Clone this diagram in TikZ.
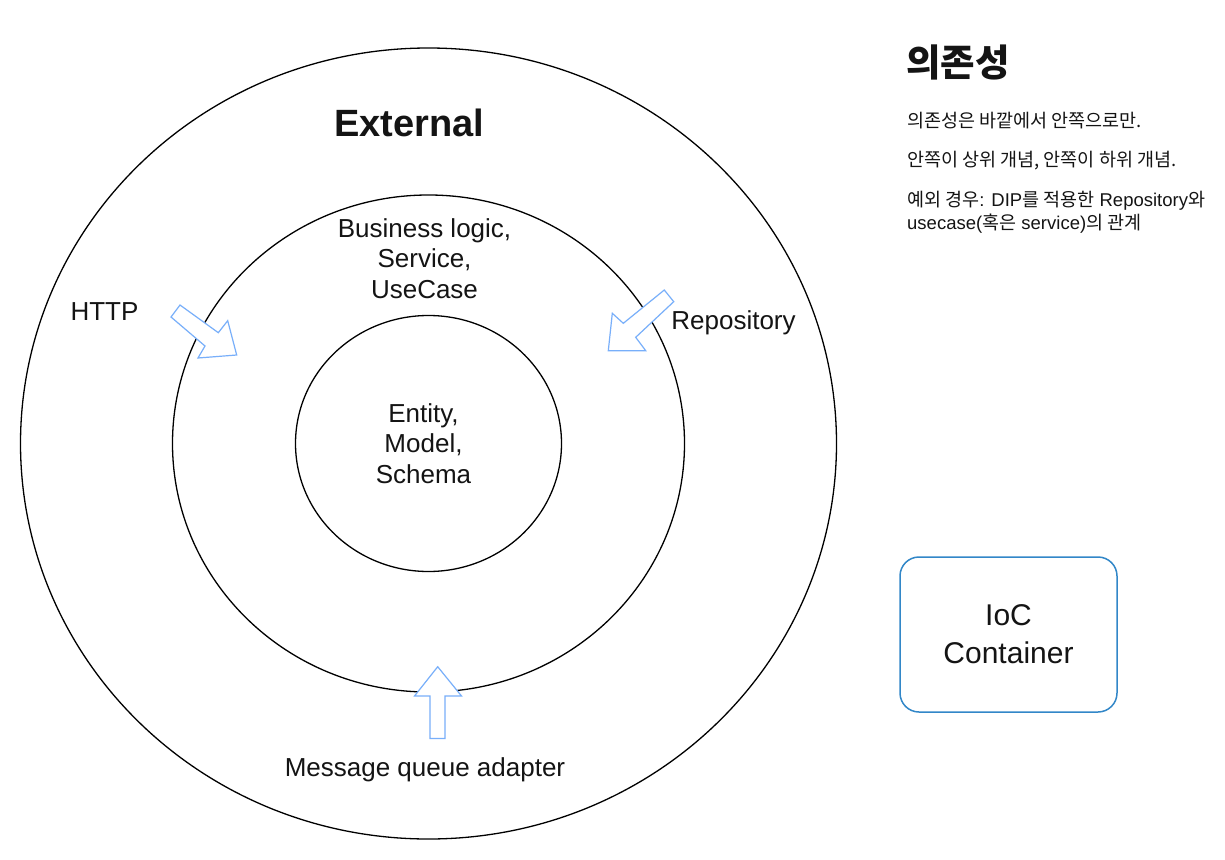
\documentclass[tikz,border=0pt]{standalone}
\usepackage{fontspec}
\setmainfont{Liberation Sans}
\newfontfamily\kr{Noto Sans CJK KR}
\usetikzlibrary{shapes.geometric}
\definecolor{arrowblue}{RGB}{120,175,250}
\definecolor{boxblue}{RGB}{50,135,200}
\definecolor{txt}{RGB}{20,20,20}
\begin{document}
\begin{tikzpicture}[x=1pt,y=-1pt,
  ring/.style={draw=black, line width=1.3pt, ellipse, inner sep=0pt},
  blockarrow/.style={draw=arrowblue, fill=white, line width=1.2pt, line join=miter},
  lbl/.style={inner sep=0pt, text=txt, font=\fontsize{26}{30.5}\selectfont},
  note/.style={inner sep=0pt, anchor=base west, text=txt, font=\fontsize{18.5}{22}\selectfont},
  iocbox/.style={draw=boxblue, line width=1.5pt, rounded corners=19pt, fill=white,
    minimum width=217pt, minimum height=155pt, align=center, text=txt,
    font=\fontsize{30}{38}\selectfont}
]
\useasboundingbox (0,0) rectangle (1225,859);
\fill[white] (0,0) rectangle (1225,859);

% rings
\node[ring, minimum width=816pt, minimum height=791pt] (outer) at (428.5,443.5) {};
\node[ring, minimum width=512pt, minimum height=497pt] (middle) at (428.5,443.5) {};
\node[ring, minimum width=266pt, minimum height=256pt] (inner) at (428.5,443.5) {};

% block arrows
\draw[blockarrow] (180,305) -- (218.3,332.7) -- (227.7,320.7) -- (236.7,355) -- (198,358) -- (205,346) -- (171,317) -- cycle;
\draw[blockarrow] (664.3,290) -- (673.7,301.7) -- (635.7,337.3) -- (645.7,350.7) -- (608.3,350.7) -- (612.3,313.3) -- (623.3,323.3) -- cycle;
\draw[blockarrow] (437.7,666.7) -- (461.5,696) -- (445,696) -- (445,738.5) -- (430,738.5) -- (430,696) -- (414.5,696) -- cycle;

% texts in rings
\node[lbl, anchor=base, font=\fontsize{38}{40}\selectfont\bfseries] (external) at (409.5,136) {External};
\node[lbl, align=center] (business) at (424.5,258.4) {Business logic,\\Service,\\UseCase};
\node[lbl, align=center] (entity) at (423.5,443.4) {Entity,\\Model,\\Schema};
\node[lbl, anchor=base] (http) at (104.5,320.3) {HTTP};
\node[lbl, anchor=base] (repo) at (733.5,329.5) {Repository};
\node[lbl, anchor=base] (mq) at (425,776.5) {Message queue adapter};

% IoC container
\node[iocbox] (ioc) at (1008.5,634.5) {\raisebox{-2.5pt}{IoC}\\\raisebox{-2.5pt}{Container}};

% notes
\node[inner sep=0pt, anchor=base west, text=txt, font=\kr\bfseries\fontsize{37.5}{40}\selectfont] (title) at (906,76) {의존성};
\node[note] (n1) at (907,127) {\kr 의존성은 바깥에서 안쪽으로만.};
\node[note] (n2) at (907,166) {\kr 안쪽이 상위 개념, 안쪽이 하위 개념.};
\node[note] (n3) at (907,206) {{\kr 예외 경우}: DIP{\kr 를 적용한} Repository{\kr 와}};
\node[note] (n4) at (907,229) {usecase({\kr 혹은} service){\kr 의 관계}};
\end{tikzpicture}
\end{document}
